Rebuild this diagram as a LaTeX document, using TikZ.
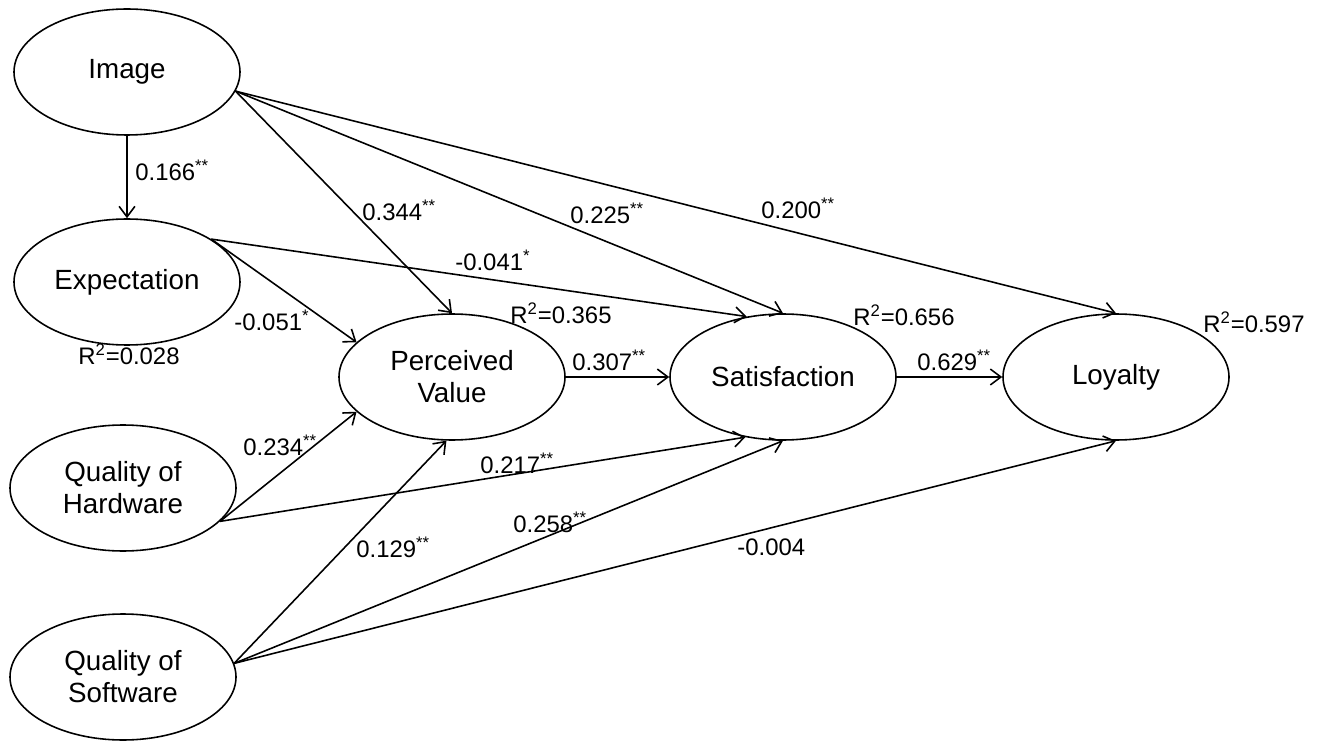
\documentclass[tikz,border=0pt]{standalone}
\usepackage{fontspec}
\setmainfont{Liberation Sans}
\usepackage{tikz}
\usetikzlibrary{shapes.geometric,arrows.meta,positioning}

\begin{document}
\begin{tikzpicture}[
  vtx/.style={shape=ellipse,draw=cv,fill=cfv,text=clv,line width=0.9pt,
    minimum width=4.52cm,minimum height=2.52cm,inner sep=0pt,align=center,
    font=\fontsize{15.8}{18.2}\selectfont},
  link/.style={draw=ce,line width=0.9pt,-{Straight Barb[length=6pt,width=9pt,line width=0.9pt]}},
  lbl/.style={anchor=west,inner sep=0pt,text=clv,font=\fontsize{13.6}{16}\selectfont}
]
%
\useasboundingbox (0,0) rectangle (26.36cm,14.8cm);
%
\definecolor{cv}{rgb}{0.0,0.0,0.0}
\definecolor{cfv}{rgb}{1.0,1.0,1.0}
\definecolor{clv}{rgb}{0.0,0.0,0.0}
\definecolor{ce}{rgb}{0.0,0.0,0.0}
%
\node[vtx] (img) at (2.54cm,13.36cm) {Image};
\node[vtx] (exp) at (2.54cm,9.16cm) {Expectation};
\node[vtx] (qh) at (2.46cm,5.04cm) {Quality of\\Hardware};
\node[vtx] (qs) at (2.46cm,1.26cm) {Quality of\\Software};
\node[vtx] (pv) at (9.04cm,7.26cm) {Perceived\\Value};
\node[vtx] (sat) at (15.66cm,7.26cm) {Satisfaction};
\node[vtx] (loy) at (22.32cm,7.26cm) {Loyalty};
%
\draw[link] (img.south) -- (exp.north);
\draw[link] (img.-10) -- (pv.north);
\draw[link] (img.-10) -- (sat.north);
\draw[link] (img.-10) -- (loy.north);
\draw[link] (exp.27) -- (pv.160);
\draw[link] (exp.27) -- (sat.121);
\draw[link] (pv.east) -- (sat.west);
\draw[link] (sat.east) -- (loy.west);
\draw[link] (qh.-19) -- (pv.200);
\draw[link] (qh.-19) -- (sat.238);
\draw[link] (qs.7) -- (pv.265);
\draw[link] (qs.7) -- (sat.south);
\draw[link] (qs.7) -- (loy.south);
%
\node[lbl] (l-img-exp) at (2.70cm,11.40cm) {0.166\textsuperscript{**}};
\node[lbl] (l-img-pv) at (7.24cm,10.60cm) {0.344\textsuperscript{**}};
\node[lbl] (l-img-sat) at (11.40cm,10.54cm) {0.225\textsuperscript{**}};
\node[lbl] (l-img-loy) at (15.22cm,10.64cm) {0.200\textsuperscript{**}};
\node[lbl] (l-exp-pv) at (4.68cm,8.40cm) {-0.051\textsuperscript{*}};
\node[lbl] (l-exp-sat) at (9.10cm,9.60cm) {-0.041\textsuperscript{*}};
\node[lbl] (l-pv-sat) at (11.44cm,7.60cm) {0.307\textsuperscript{**}};
\node[lbl] (l-sat-loy) at (18.34cm,7.60cm) {0.629\textsuperscript{**}};
\node[lbl] (l-qh-pv) at (4.86cm,5.90cm) {0.234\textsuperscript{**}};
\node[lbl] (l-qh-sat) at (9.60cm,5.54cm) {0.217\textsuperscript{**}};
\node[lbl] (l-qs-pv) at (7.12cm,3.86cm) {0.129\textsuperscript{**}};
\node[lbl] (l-qs-sat) at (10.26cm,4.36cm) {0.258\textsuperscript{**}};
\node[lbl] (l-qs-loy) at (14.74cm,3.86cm) {-0.004};
%
\node[lbl] (r-exp) at (1.56cm,7.72cm) {R\textsuperscript{2}=0.028};
\node[lbl] (r-pv) at (10.20cm,8.54cm) {R\textsuperscript{2}=0.365};
\node[lbl] (r-sat) at (17.06cm,8.50cm) {R\textsuperscript{2}=0.656};
\node[lbl] (r-loy) at (24.06cm,8.36cm) {R\textsuperscript{2}=0.597};
%
\end{tikzpicture}
\end{document}
